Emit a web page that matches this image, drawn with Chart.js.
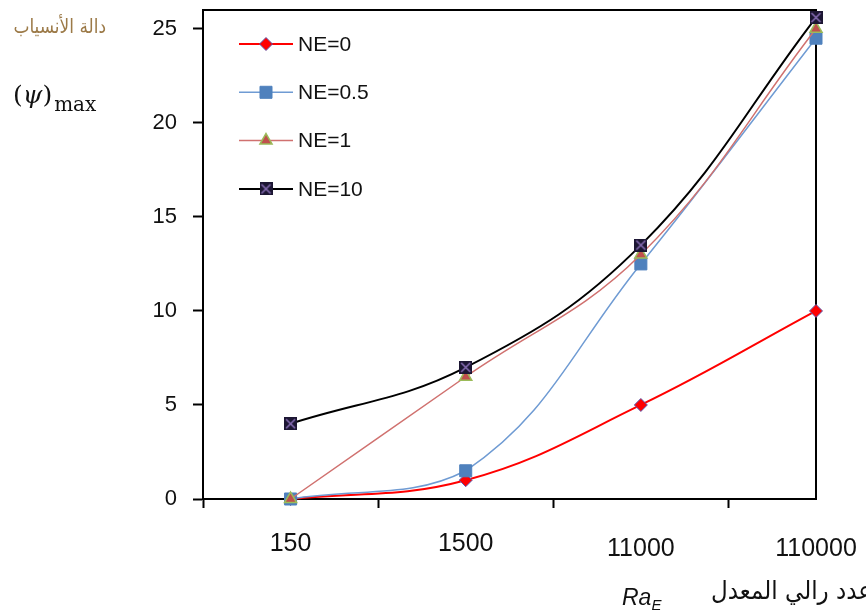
<!DOCTYPE html>
<html>
<head>
<meta charset="utf-8">
<script src="https://cdn.jsdelivr.net/npm/chart.js@4/dist/chart.umd.min.js"></script>
<style>
  body { margin: 0; background: #fff; overflow: hidden; }
  #wrap { position: relative; width: 866px; height: 613px; overflow: hidden; }
  .t { position: absolute; white-space: nowrap; }
</style>
</head>
<body>
<div id="wrap">
  <canvas id="chart" width="866" height="613"></canvas>
  <div class="t" dir="rtl" style="left:0;width:106px;text-align:right;top:14px;font:20px 'DejaVu Sans';color:#9c7a48;transform:scaleX(0.85);transform-origin:right center">دالة الأنسياب</div>
  <div class="t" style="left:13px;top:80px;font:25px 'DejaVu Serif';color:#111">(<i>ψ</i>)<span style="font-size:20px;position:relative;top:8px;left:2px">max</span></div>
  <div class="t" style="left:622px;top:584px;font:italic 23px 'Liberation Sans';color:#111">Ra<span style="font-size:15px;position:relative;top:5px">E</span></div>
  <div class="t" dir="rtl" style="left:660px;width:212px;text-align:right;top:576px;font:25px 'DejaVu Sans';color:#111;transform:scaleX(0.92);transform-origin:right center">عدد رالي المعدل</div>
</div>
<script>
// Rayleigh numbers (categories)
const raLabels = ['150', '1500', '11000', '110000'];
// max stream function for each NE
const ne0 = [0, 1, 5, 10];
const ne05 = [0, 1.5, 12.5, 24.5];
const ne1 = [0, 6.5, 13, 25];
const ne10 = [4, 7, 13.5, 25.6];
const yTicks = [0, 5, 10, 15, 20, 25];

function toPoints(arr) {
    return arr.map((v, i) => ({ x: i + 1, y: v }));
}

// square marker with an X for NE=10
const boxX = document.createElement('canvas');
boxX.width = 13; boxX.height = 13;
(function() {
    const c = boxX.getContext('2d');
    c.fillStyle = '#1c1633';
    c.fillRect(0, 0, 13, 13);
    c.strokeStyle = '#8a6fb8';
    c.lineWidth = 1.5;
    c.beginPath();
    c.moveTo(2, 2); c.lineTo(11, 11);
    c.moveTo(11, 2); c.lineTo(2, 11);
    c.stroke();
})();

// frame around the plot area
const framePlugin = {
    id: 'frame',
    beforeDatasetsDraw(chart) {
        const a = chart.chartArea;
        const ctx = chart.ctx;
        ctx.save();
        ctx.strokeStyle = '#000';
        ctx.lineWidth = 2;
        ctx.strokeRect(a.left, a.top, a.right - a.left, a.bottom - a.top);
        ctx.restore();
    }
};

// legend inside the plot, line + marker like the original
const legendPlugin = {
    id: 'innerLegend',
    afterDraw(chart) {
        const ctx = chart.ctx;
        chart.data.datasets.forEach((ds, i) => {
            const y = 44 + i * 48.3;
            ctx.save();
            ctx.strokeStyle = ds.borderColor;
            ctx.lineWidth = ds.borderWidth;
            ctx.beginPath();
            ctx.moveTo(239, y);
            ctx.lineTo(293, y);
            ctx.stroke();
            ctx.fillStyle = ds.pointBackgroundColor;
            ctx.strokeStyle = ds.pointBorderColor;
            ctx.lineWidth = ds.pointBorderWidth;
            Chart.helpers.drawPoint(ctx, {
                pointStyle: ds.pointStyle,
                radius: ds.pointRadius,
                borderWidth: ds.pointBorderWidth,
                rotation: 0
            }, 266, y);
            ctx.fillStyle = '#111';
            ctx.font = "21px 'Liberation Sans'";
            ctx.textBaseline = 'middle';
            ctx.fillText(ds.label, 298, y + 1);
            ctx.restore();
        });
    }
};

new Chart(document.getElementById('chart'), {
    type: 'line',
    data: {
        datasets: [{
            label: 'NE=0',
            data: toPoints(ne0),
            borderColor: '#ff0000',
            borderWidth: 2,
            pointStyle: 'rectRot',
            pointRadius: 6.5,
            pointBackgroundColor: '#ff0000',
            pointBorderColor: '#5b5bb0',
            pointBorderWidth: 1,
            order: 4
        }, {
            label: 'NE=0.5',
            data: toPoints(ne05),
            borderColor: '#6f9bd3',
            borderWidth: 1.5,
            pointStyle: 'rect',
            pointRadius: 8.5,
            pointBackgroundColor: '#4f81bd',
            pointBorderColor: '#4f81bd',
            pointBorderWidth: 1,
            order: 3
        }, {
            label: 'NE=1',
            data: toPoints(ne1),
            borderColor: '#d0716f',
            borderWidth: 1.5,
            pointStyle: 'triangle',
            pointRadius: 7,
            pointBackgroundColor: '#c0504d',
            pointBorderColor: '#9bbb59',
            pointBorderWidth: 1.5,
            order: 2
        }, {
            label: 'NE=10',
            data: toPoints(ne10),
            borderColor: '#000000',
            borderWidth: 2,
            pointStyle: boxX,
            pointRadius: 6,
            pointBackgroundColor: '#1c1633',
            pointBorderColor: '#000',
            pointBorderWidth: 0,
            order: 1
        }]
    },
    options: {
        responsive: false,
        animation: false,
        clip: false,
        tension: 0.4,
        layout: { padding: { top: 10, right: 50, left: 0, bottom: 0 } },
        plugins: {
            legend: { display: false },
            tooltip: { enabled: false }
        },
        scales: {
            x: {
                type: 'linear',
                min: 0.5,
                max: 4,
                afterBuildTicks(scale) {
                    const t = [0.5];
                    raLabels.forEach((_, i) => { t.push(i + 1); if (i < raLabels.length - 1) t.push(i + 1.5); });
                    scale.ticks = t.map(v => ({ value: v }));
                },
                afterFit(scale) {
                    scale.height = 114;
                    scale.paddingLeft = 0;
                    scale.paddingRight = 0;
                },
                border: { color: '#000', width: 2 },
                grid: {
                    drawOnChartArea: false,
                    tickLength: 9,
                    tickWidth: 2,
                    tickColor: ctx => (ctx.tick && ctx.tick.value % 1 !== 0) ? '#000' : 'rgba(0,0,0,0)'
                },
                ticks: {
                    autoSkip: false,
                    maxRotation: 0,
                    padding: 21,
                    color: '#111',
                    font: ctx => ({
                        family: 'Liberation Sans',
                        size: 25,
                        lineHeight: (ctx.tick && ctx.tick.value >= 3) ? 1.6 : 1.2
                    }),
                    callback: v => Number.isInteger(v) ? raLabels[v - 1] : ''
                }
            },
            y: {
                min: 0,
                max: 26,
                afterBuildTicks(scale) {
                    scale.ticks = yTicks.map(v => ({ value: v }));
                },
                afterFit(scale) {
                    scale.width = 203;
                    scale.paddingTop = 0;
                    scale.paddingBottom = 0;
                },
                border: { color: '#000', width: 2 },
                grid: {
                    drawOnChartArea: false,
                    tickLength: 10,
                    tickWidth: 2,
                    tickColor: '#000'
                },
                ticks: {
                    padding: 16,
                    color: '#111',
                    font: { family: 'Liberation Sans', size: 22 }
                }
            }
        }
    },
    plugins: [framePlugin, legendPlugin]
});
</script>
</body>
</html>
